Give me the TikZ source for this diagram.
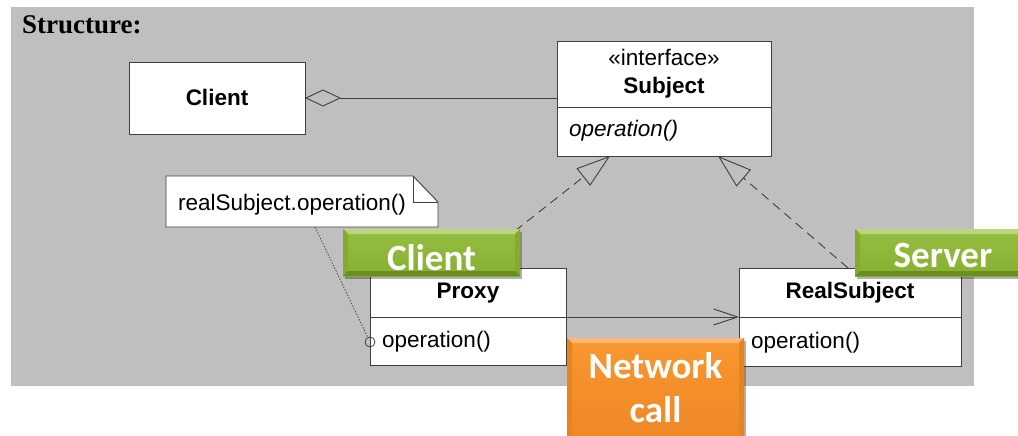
\documentclass[tikz,border=0pt]{standalone}
\usepackage{fontspec}
\setsansfont{Liberation Sans}
\setmainfont{Liberation Serif}
\newfontfamily\tagfont{Carlito}
\usetikzlibrary{shadows,arrows.meta,calc}

\definecolor{panelgray}{HTML}{BFBFBF}
\definecolor{umlink}{HTML}{404040}
% green tag
\definecolor{greenface}{HTML}{95BD3E}
\definecolor{greenfacelow}{HTML}{88B033}
\definecolor{greenhi}{HTML}{B9D77E}
\definecolor{greenside}{HTML}{84AB30}
\definecolor{greenlow}{HTML}{6A8E25}
% orange tag
\definecolor{orangeface}{HTML}{F8972F}
\definecolor{orangefacelow}{HTML}{EE8626}
\definecolor{orangehi}{HTML}{FBB874}
\definecolor{orangeside}{HTML}{E8841F}
\definecolor{orangelow}{HTML}{C66414}

% bevelled edges of a tag node: #1 node, #2 top, #3 sides, #4 bottom
\newcommand\tagbevel[4]{%
  \fill[#2] (#1.north west) -- (#1.north east) -- ($(#1.north east)+(-5,5)$) -- ($(#1.north west)+(5,5)$) -- cycle;
  \fill[#3] (#1.north west) -- ($(#1.north west)+(5,5)$) -- ($(#1.south west)+(5,-5)$) -- (#1.south west) -- cycle;
  \fill[#3] (#1.north east) -- ($(#1.north east)+(-5,5)$) -- ($(#1.south east)+(-5,-5)$) -- (#1.south east) -- cycle;
  \fill[#4] (#1.south west) -- (#1.south east) -- ($(#1.south east)+(-5,-5)$) -- ($(#1.south west)+(5,-5)$) -- cycle;
}

\begin{document}
\begin{tikzpicture}[x=1pt,y=-1pt,
  umlline/.style={draw=umlink, line width=0.9pt},
  umlbox/.style={umlline, fill=white, rectangle, inner sep=0pt, outer sep=0pt, anchor=north west},
  umltext/.style={font=\sffamily\fontsize{22.5}{26}\selectfont, inner sep=0pt, text=black},
  umlbold/.style={umltext, font=\sffamily\bfseries\fontsize{22.5}{26}\selectfont},
  realize/.style={umlline, dash pattern=on 9pt off 6pt, -{Triangle[open, length=34pt, width=22pt]}},
  tagbox/.style={rectangle, inner sep=0pt, outer sep=0pt, anchor=north west,
    drop shadow={shadow xshift=2pt, shadow yshift=-2.5pt, opacity=0.3, fill=black}},
  greentag/.style={tagbox, top color=greenface, bottom color=greenfacelow},
  orangetag/.style={tagbox, top color=orangeface, bottom color=orangefacelow},
  tagtext/.style={font=\tagfont\bfseries\fontsize{37}{44}\selectfont, text=white, inner sep=0pt, anchor=base}
]
\useasboundingbox (0,0) rectangle (1018,436);

% panel and heading
\fill[panelgray] (11,7) rectangle (974,386);
\node[anchor=base west, inner sep=0pt, font=\rmfamily\bfseries\fontsize{27}{30}\selectfont] (title) at (22,34) {Structure:};

% Client class
\node[umlbox, minimum width=176pt, minimum height=72pt] (client) at (129,62) {};
\node[umlbold, anchor=base] (clientname) at (217,106) {Client};

% Subject interface
\node[umlbox, minimum width=214pt, minimum height=115pt] (subject) at (557,41) {};
\draw[umlline] (subject.west |- 0,107) -- (subject.east |- 0,107);
\node[umltext, anchor=base] (stereo) at (664,66) {«interface»};
\node[umlbold, anchor=base] (subjectname) at (664,94) {Subject};
\node[umltext, anchor=base west, font=\sffamily\itshape\fontsize{22.5}{26}\selectfont] (subjectop) at (569,136) {operation()};

% Proxy class
\node[umlbox, minimum width=196pt, minimum height=97pt] (proxy) at (370,268) {};
\draw[umlline] (proxy.west |- 0,317) -- (proxy.east |- 0,317);
\node[umlbold, anchor=base] (proxyname) at (468,298) {Proxy};
\node[umltext, anchor=base west] (proxyop) at (382,347) {operation()};

% RealSubject class
\node[umlbox, minimum width=222pt, minimum height=98pt] (real) at (739,268) {};
\draw[umlline] (real.west |- 0,317) -- (real.east |- 0,317);
\node[umlbold, anchor=base] (realname) at (850,298) {RealSubject};
\node[umltext, anchor=base west] (realop) at (751,348) {operation()};

% note with folded corner
\node[rectangle, inner sep=0pt, outer sep=0pt, anchor=north west, minimum width=272pt, minimum height=51pt] (note) at (166,176) {};
\filldraw[umlline, fill=white, line join=miter]
  (note.north west) -- ($(note.north east)+(-25,0)$) -- ($(note.north east)+(0,26)$)
  -- (note.south east) -- (note.south west) -- cycle;
\draw[umlline] ($(note.north east)+(-25,0)$) -- ($(note.north east)+(-25,26)$) -- ($(note.north east)+(0,26)$);
\node[umltext, anchor=base west] (notetext) at (178,210) {realSubject.operation()};

% note anchor on Proxy.operation()
\node[circle, draw=umlink, line width=0.8pt, minimum size=10pt, inner sep=0pt] (port) at (370,342) {};
\draw[draw=umlink, line width=0.7pt, dash pattern=on 1.5pt off 1.5pt] ($(note.south west)+(149,0)$) -- (port);

% aggregation Client -> Subject
\draw[umlline, {Diamond[open, length=36pt, width=17pt]}-] (client.east) -- (client.east -| subject.west);

% realizations
\coordinate (proxytop) at (468,268);
\coordinate (subjleft) at (610,156);
\coordinate (realtop) at (848,268);
\coordinate (subjright) at (718,156);
\draw[realize] (proxytop) -- (subjleft);
\draw[realize] (realtop) -- (subjright);

% navigable association Proxy -> RealSubject
\draw[umlline, -{Straight Barb[length=24pt, width=16pt]}] (proxy.east |- 0,317) -- (real.west |- 0,317);

% tags
\node[greentag, minimum width=177pt, minimum height=47pt] (clienttag) at (343,229) {};
\tagbevel{clienttag}{greenhi}{greenside}{greenlow}
\node[tagtext] (clienttagtext) at (431.5,270) {Client};

\node[greentag, minimum width=175pt, minimum height=47pt] (servertag) at (855,229) {};
\tagbevel{servertag}{greenhi}{greenside}{greenlow}
\node[tagtext] (servertagtext) at (943,267) {Server};

\node[orangetag, minimum width=177pt, minimum height=110pt] (nettag) at (567,338) {};
\tagbevel{nettag}{orangehi}{orangeside}{orangelow}
\node[tagtext] (nettagtext1) at (655.5,378) {Network};
\node[tagtext] (nettagtext2) at (655.5,422) {call};
\end{tikzpicture}
\end{document}
